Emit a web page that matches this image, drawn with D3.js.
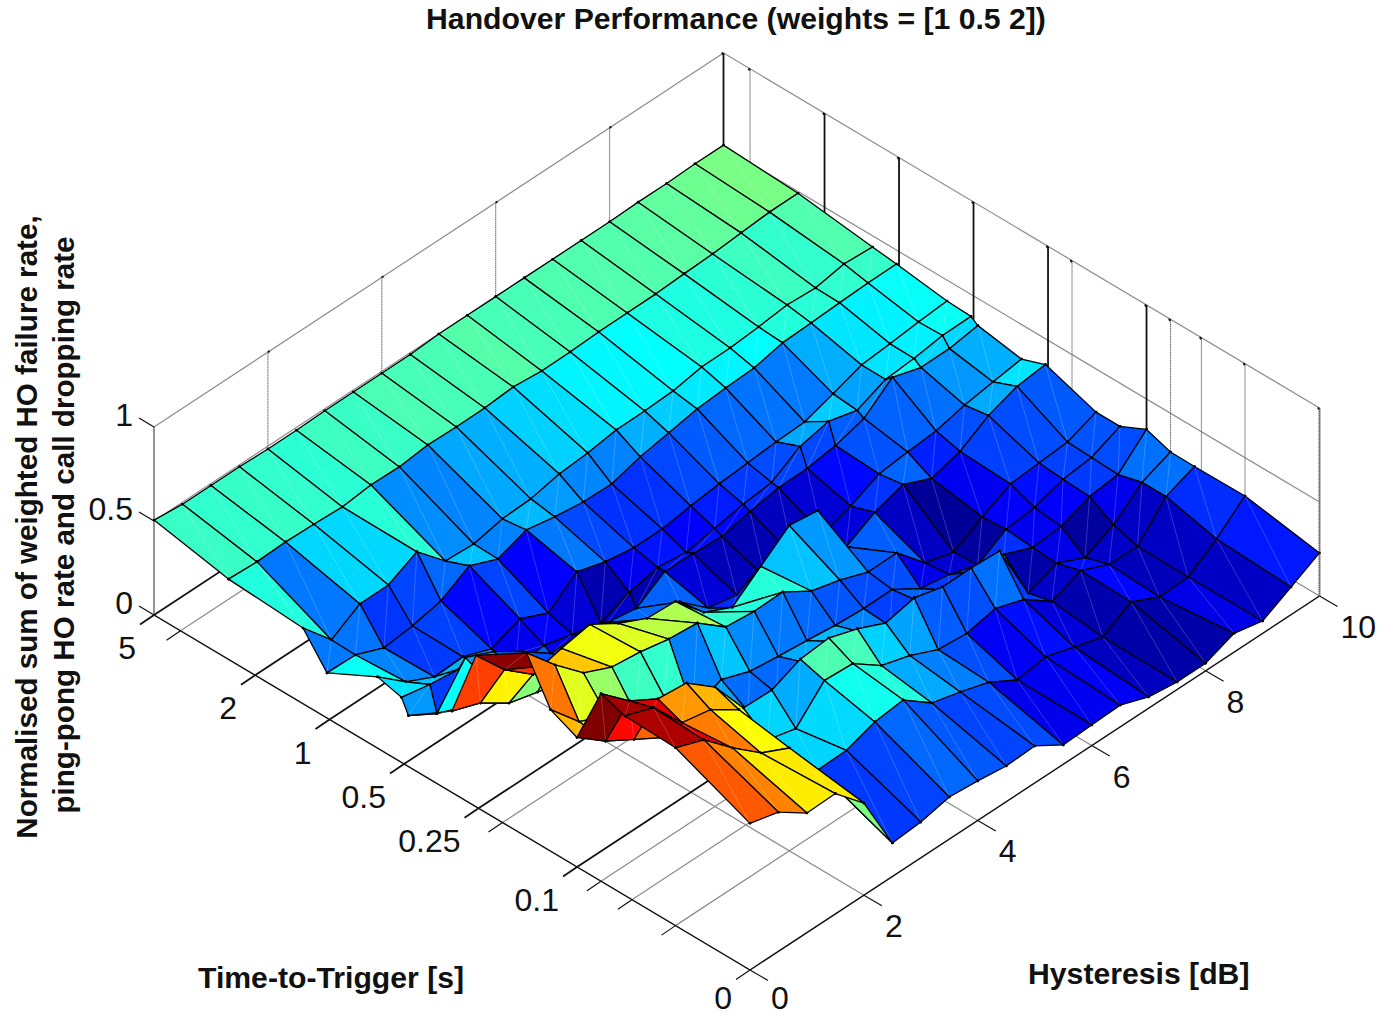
<!DOCTYPE html>
<html>
<head>
<meta charset="utf-8">
<script src="https://cdn.jsdelivr.net/npm/d3@7"></script>
<style>
  body { margin: 0; background: #fff; }
  text { font-family: "Liberation Sans", Arial, sans-serif; fill: #111; }
  .tick { font-size: 32px; }
  .lab { font-size: 30.2px; font-weight: bold; }
  .ylab { font-size: 29.6px; font-weight: bold; }
</style>
</head>
<body>
<div id="chart"></div>
<script>
var hysteresis = [0,0.5,1,1.5,2,2.5,3,3.5,4,4.5,5,5.5,6,6.5,7,7.5,8,8.5,9,9.5,10];
var ttt = [0,0.04,0.064,0.08,0.1,0.128,0.16,0.256,0.32,0.48,0.512,0.64,1.024,1.28,2.56,5.12];

// one list per time-to-trigger value, hysteresis 0..10 in 0.5 steps
var z000  = [.78,.74,.636,.64,.49,.178,.19,.224,.21,.19,.197,.103,.11,.116,.06,.04,.04,.10,.066,.147,.229];
var z004  = [.946,.888,.746,.62,.547,.33,.335,.387,.404,.289,.248,.20,.113,.136,.089,.043,.13,.057,.064,.166,.296];
var z0064 = [.955,.90,.72,.69,.59,.33,.291,.447,.438,.328,.282,.214,.2,.233,.182,.072,.137,.07,.066,.232,.293];
var z008  = [.998,.86,.771,.756,.635,.424,.42,.485,.498,.447,.379,.413,.372,.373,.364,.04,.10,.03,.105,.232,.294];
var z01   = [.689,.57,.48,.39,.33,.28,.23,.226,.291,.304,.253,.185,.219,.178,.179,.17,.108,.12,.18,.197,.338];
var z0128 = [.753,.59,.52,.43,.42,.25,.316,.26,.24,.225,.206,.196,.198,.104,.079,.03,.12,.137,.187,.204,.27];
var z016  = [.979,.815,.673,.605,.586,.555,.54,.42,.404,.407,.313,.272,.215,.217,.065,.023,.11,.186,.198,.21,.27];
var z0256 = [.805,.63,.505,.544,.572,.478,.405,.396,.238,.165,.284,.402,.382,.09,.173,.222,.155,.199,.29,.346,.363];
var z032  = [.433,.377,.277,.236,.2,.2,.2,.227,.218,.086,.056,.05,.06,.08,.131,.202,.22,.232,.27,.294,.316];
var z048  = [.271,.182,.38,.313,.214,.104,.105,.07,.045,.142,.138,.129,.163,.19,.193,.215,.26,.379,.332,.333,.356];
var z0512 = [.346,.315,.296,.25,.105,.125,.084,.048,.108,.142,.122,.15,.179,.196,.288,.322,.281,.346,.358,.381,.383];
var z064  = [.379,.253,.18,.187,.13,.19,.122,.241,.195,.17,.171,.194,.212,.224,.236,.243,.293,.347,.36,.377,.389];
var z1024 = [.24,.236,.174,.191,.225,.312,.249,.304,.274,.254,.25,.295,.323,.351,.363,.37,.404,.41,.418,.424,.426];
var z128  = [.403,.24,.332,.333,.41,.262,.253,.287,.294,.327,.339,.362,.364,.371,.399,.40,.413,.43,.421,.449,.44];
var z256  = [.427,.419,.425,.42,.413,.43,.427,.444,.44,.442,.454,.44,.441,.448,.45,.451,.459,.465,.478,.489,.49];
var z512  = [.505,.49,.49,.49,.485,.485,.49,.49,.49,.49,.50,.50,.50,.50,.50,.50,.50,.505,.505,.51,.51];
var surface = [z000,z004,z0064,z008,z01,z0128,z016,z0256,z032,z048,z0512,z064,z1024,z128,z256,z512];

var hTicks = [0,2,4,6,8,10];
var tTicks = [0,0.04,0.06,0.08,0.1,0.2,0.25,0.5,1,2,4,5.12];
var tLabels = {0:"0",0.1:"0.1",0.25:"0.25",0.5:"0.5",1:"1",2:"2",5.12:"5"};
var tMajor = [0.1,0.25,0.5,1,2,5.12];
var zTicks = [0,0.5,1];

var svgWidth = 1379, svgHeight = 1016;
var origin = {x: 750, y: 970};

var svg = d3.select("#chart").append("svg")
    .attr("width", svgWidth)
    .attr("height", svgHeight);

// the 3D view is just three pairs of scales added together
var hX = d3.scaleLinear().domain([0,10]).range([0,569.5]);
var hY = d3.scaleLinear().domain([0,10]).range([0,-374]);
var tPos = d3.scaleLog().base(2).domain([0.02,5.12]).range([0,24]);
var pX = d3.scaleLinear().domain([0,24]).range([0,-596]);
var pY = d3.scaleLinear().domain([0,24]).range([0,-355]);
var zY = d3.scaleLinear().domain([0,1]).range([0,-188]);

function tp(t) { return tPos(Math.max(t,0.02)); }
function px(h,t) { return origin.x + hX(h) + pX(tp(t)); }
function py(h,t,z) { return origin.y + hY(h) + pY(tp(t)) + zY(z); }

var jet = d3.scaleLinear()
    .domain([0,0.125,0.375,0.625,0.875,1])
    .range(["#000080","#0000ff","#00ffff","#ffff00","#ff0000","#800000"])
    .clamp(true);
var colorScale = d3.scaleLinear().domain([0,0.99]).range([0,1]);

var seg = d3.line();
function line3(g,a,b,stroke,w,dash) {
    g.append("path")
        .attr("d", seg([[px(a[0],a[1]),py(a[0],a[1],a[2])],[px(b[0],b[1]),py(b[0],b[1],b[2])]]))
        .attr("fill","none").attr("stroke",stroke).attr("stroke-width",w)
        .attr("stroke-dasharray",dash||null);
}

var tMax = 5.12, grey = "#8c8c8c";
var box = svg.append("g");

// walls
zTicks.slice(1).forEach(function(z) {
    line3(box,[0,tMax,z],[10,tMax,z],grey,1.2);
    line3(box,[10,tMax,z],[10,0,z],grey,1.2);
});
hTicks.slice(1,5).forEach(function(h) {
    line3(box,[h,tMax,0],[h,tMax,1],"#777",1.1,"1.5,0.5");
    line3(box,[h,tMax,1],[h+0.03,tMax,1],"#111",2);
});
tTicks.forEach(function(t) {
    var major = tMajor.indexOf(t) >= 0;
    line3(box,[10,t,0],[10,t,1],major ? "#111" : "#777",major ? 1.8 : 1.1,major ? null : "1.5,0.5");
    line3(box,[10,t,1],[9.97,t,1],"#111",2.5);
});
line3(box,[0,tMax,0],[0,tMax,1],"#666",1.4);
line3(box,[10,0,0],[10,0,1],"#666",2,"1.5,0.5");

// floor
hTicks.forEach(function(h) { line3(box,[h,0,0],[h,tMax,0],grey,1.2); });
tTicks.forEach(function(t) {
    var major = tMajor.indexOf(t) >= 0;
    line3(box,[0,t,0],[10,t,0],major ? "#111" : grey,major ? 1.8 : 1.2);
});

// front axes and their ticks
line3(box,[0,tMax,0],[0,0,0],"#111",1.3);
line3(box,[0,0,0],[10,0,0],"#111",1.3);
function tick(g,x,y,dx,dy,w) {
    g.append("path").attr("d",seg([[x,y],[x+dx,y+dy]]))
        .attr("stroke","#111").attr("stroke-width",w).attr("fill","none");
}
hTicks.forEach(function(h) { tick(box,px(h,0),py(h,0,0),18,10.5,1.2); });
tTicks.forEach(function(t) { tick(box,px(0,t),py(0,t,0),-14,9.5,tMajor.indexOf(t) >= 0 ? 1.8 : 1.2); });
zTicks.forEach(function(z) { tick(box,px(0,tMax),py(0,tMax,z),-15,-9,1.2); });

// surface, far corner first so nearer cells paint over it
var surf = svg.append("g");
function vert(i,j) { return [px(hysteresis[j],ttt[i]), py(hysteresis[j],ttt[i],surface[i][j])]; }
for (var i = ttt.length-2; i >= 0; i--) {
    for (var j = hysteresis.length-2; j >= 0; j--) {
        var a = vert(i,j), b = vert(i,j+1), c = vert(i+1,j+1), d = vert(i+1,j);
        surf.append("path")
            .attr("d", seg([a,b,c,d]) + "Z")
            .attr("fill", jet(colorScale(surface[i][j])))
            .attr("stroke","#000").attr("stroke-width",1.3).attr("stroke-linejoin","round");
        surf.append("path")
            .attr("d", seg([a,c]))
            .attr("stroke","#fff").attr("stroke-opacity",0.25).attr("stroke-width",0.8);
        surf.selectAll(null).data([a,b,c,d]).enter().append("circle")
            .attr("cx",function(v){return v[0];}).attr("cy",function(v){return v[1];})
            .attr("r",1.3).attr("fill","#000");
    }
}

// labels (the two zeros sit right at the bottom of the page)
var txt = svg.append("g");
hTicks.forEach(function(h) {
    txt.append("text").attr("class","tick")
        .attr("x",px(h,0)+21).attr("y",Math.min(py(h,0,0)+42,1009)).text(h);
});
tTicks.filter(function(t){ return tLabels[t] !== undefined; }).forEach(function(t) {
    txt.append("text").attr("class","tick").attr("text-anchor","end")
        .attr("x",px(0,t)-18).attr("y",Math.min(py(0,t,0)+44,1009)).text(tLabels[t]);
});
zTicks.forEach(function(z) {
    txt.append("text").attr("class","tick").attr("text-anchor","end")
        .attr("x",133).attr("y",py(0,tMax,z)-1).text(z);
});
txt.append("text").attr("class","lab").attr("text-anchor","middle")
    .attr("x",736).attr("y",29).text("Handover Performance (weights = [1 0.5 2])");
txt.append("text").attr("class","lab").attr("x",198).attr("y",988).text("Time-to-Trigger [s]");
txt.append("text").attr("class","lab").attr("x",1028).attr("y",984).text("Hysteresis [dB]");
txt.append("text").attr("class","ylab").attr("text-anchor","middle")
    .attr("transform","translate(37,527) rotate(-90)").text("Normalised sum of weighted HO failure rate,");
txt.append("text").attr("class","ylab").attr("text-anchor","middle")
    .attr("transform","translate(74,525) rotate(-90)").text("ping-pong HO rate and call dropping rate");
</script>
</body>
</html>
